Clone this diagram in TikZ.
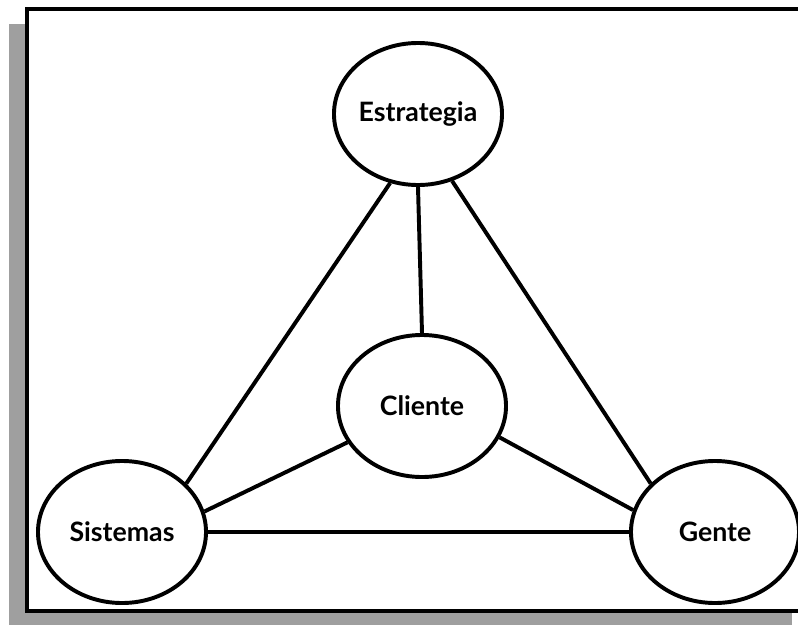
\documentclass[tikz,border=0pt]{standalone}
\usepackage{fontspec}
\setmainfont{Lato}
\usetikzlibrary{shapes.geometric}
\tikzset{
  bubble/.style={draw, ellipse, line width=2.8pt, fill=white,
    minimum width=4.2cm, minimum height=3.55cm, inner sep=0pt,
    font=\fontsize{19}{22}\selectfont\bfseries},
  link/.style={line width=2.8pt}
}
\begin{document}
\begin{tikzpicture}[x=0.025cm,y=-0.025cm]
      \useasboundingbox (0,0) rectangle (798,625);
%
      \fill[gray!75] (9,24) rectangle (792,625);
      \draw[line width=2.8pt, fill=white] (27,9) rectangle (812,611);
%
      \node[bubble] (estrategia) at (418,114) {Estrategia};
      \node[bubble] (cliente) at (422,406) {Cliente};
      \node[bubble] (sistemas) at (122,532) {Sistemas};
      \node[bubble] (gente) at (715,532) {Gente};
%
      \draw[link] (estrategia.270) -- (cliente.90);
      \draw[link] (estrategia.248) -- (sistemas.37);
      \draw[link] (estrategia.297) -- (gente.143);
%
      \draw[link] (cliente.206) -- (sistemas.14);
      \draw[link] (cliente.338) -- (gente.165);
%
      \draw[link] (sistemas.east) -- (gente.west);
%
      \end{tikzpicture}
\end{document}
